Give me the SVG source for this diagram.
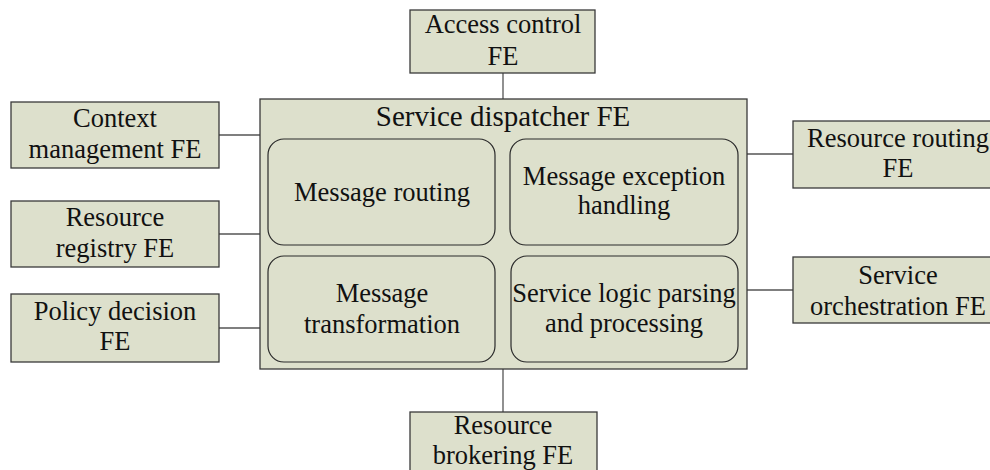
<svg xmlns="http://www.w3.org/2000/svg" width="990" height="470" viewBox="0 0 990 470">
<style>
.box{fill:#dde0cc;stroke:#3a3a3a;stroke-width:1.3}
.in{fill:#dde0cc;stroke:#2a2a2a;stroke-width:1.2}
.conn line{stroke:#555;stroke-width:1.3}
text{font-family:"Liberation Serif","Times New Roman",serif;font-size:26.5px;fill:#111;text-anchor:middle}
.t{font-size:29px}
</style>
<rect width="990" height="470" fill="#fff"/>
<g id="connectors" class="conn">
<line x1="503" y1="73" x2="503" y2="99"/>
<line x1="219" y1="135" x2="260" y2="135"/>
<line x1="219" y1="234" x2="260" y2="234"/>
<line x1="219" y1="328" x2="260" y2="328"/>
<line x1="747" y1="154" x2="793" y2="154"/>
<line x1="747" y1="290" x2="793" y2="290"/>
<line x1="503" y1="369" x2="503" y2="412"/>
</g>
<g id="service-dispatcher">
<rect class="box" x="260" y="99" width="487" height="270"/>
<text class="t" x="503" y="126">Service dispatcher FE</text>
</g>
<g id="message-routing">
<rect class="in" x="268" y="139" width="227" height="106" rx="16"/>
<text x="382" y="201">Message routing</text>
</g>
<g id="message-exception">
<rect class="in" x="510" y="139" width="228" height="106" rx="16"/>
<text x="624" y="185">Message exception</text>
<text x="624" y="214">handling</text>
</g>
<g id="message-transformation">
<rect class="in" x="268" y="256" width="227" height="106" rx="16"/>
<text x="382" y="302">Message</text>
<text x="382" y="333">transformation</text>
</g>
<g id="service-logic">
<rect class="in" x="511" y="256" width="227" height="106" rx="16"/>
<text x="624" y="302">Service logic parsing</text>
<text x="624" y="332">and processing</text>
</g>
<g id="access-control">
<rect class="box" x="410" y="10" width="185" height="63"/>
<text x="503" y="33">Access control</text>
<text x="503" y="65">FE</text>
</g>
<g id="context-management">
<rect class="box" x="11" y="102" width="208" height="66"/>
<text x="115" y="127">Context</text>
<text x="115" y="158">management FE</text>
</g>
<g id="resource-registry">
<rect class="box" x="11" y="201" width="208" height="66"/>
<text x="115" y="226">Resource</text>
<text x="115" y="257">registry FE</text>
</g>
<g id="policy-decision">
<rect class="box" x="11" y="294" width="208" height="68"/>
<text x="115" y="320">Policy decision</text>
<text x="115" y="350">FE</text>
</g>
<g id="resource-routing">
<rect class="box" x="793" y="121" width="210" height="67"/>
<text x="898" y="147">Resource routing</text>
<text x="898" y="177">FE</text>
</g>
<g id="service-orchestration">
<rect class="box" x="793" y="257" width="210" height="66"/>
<text x="898" y="284">Service</text>
<text x="898" y="315">orchestration FE</text>
</g>
<g id="resource-brokering">
<rect class="box" x="410" y="412" width="187" height="70"/>
<text x="503" y="434">Resource</text>
<text x="503" y="464">brokering FE</text>
</g>
</svg>
